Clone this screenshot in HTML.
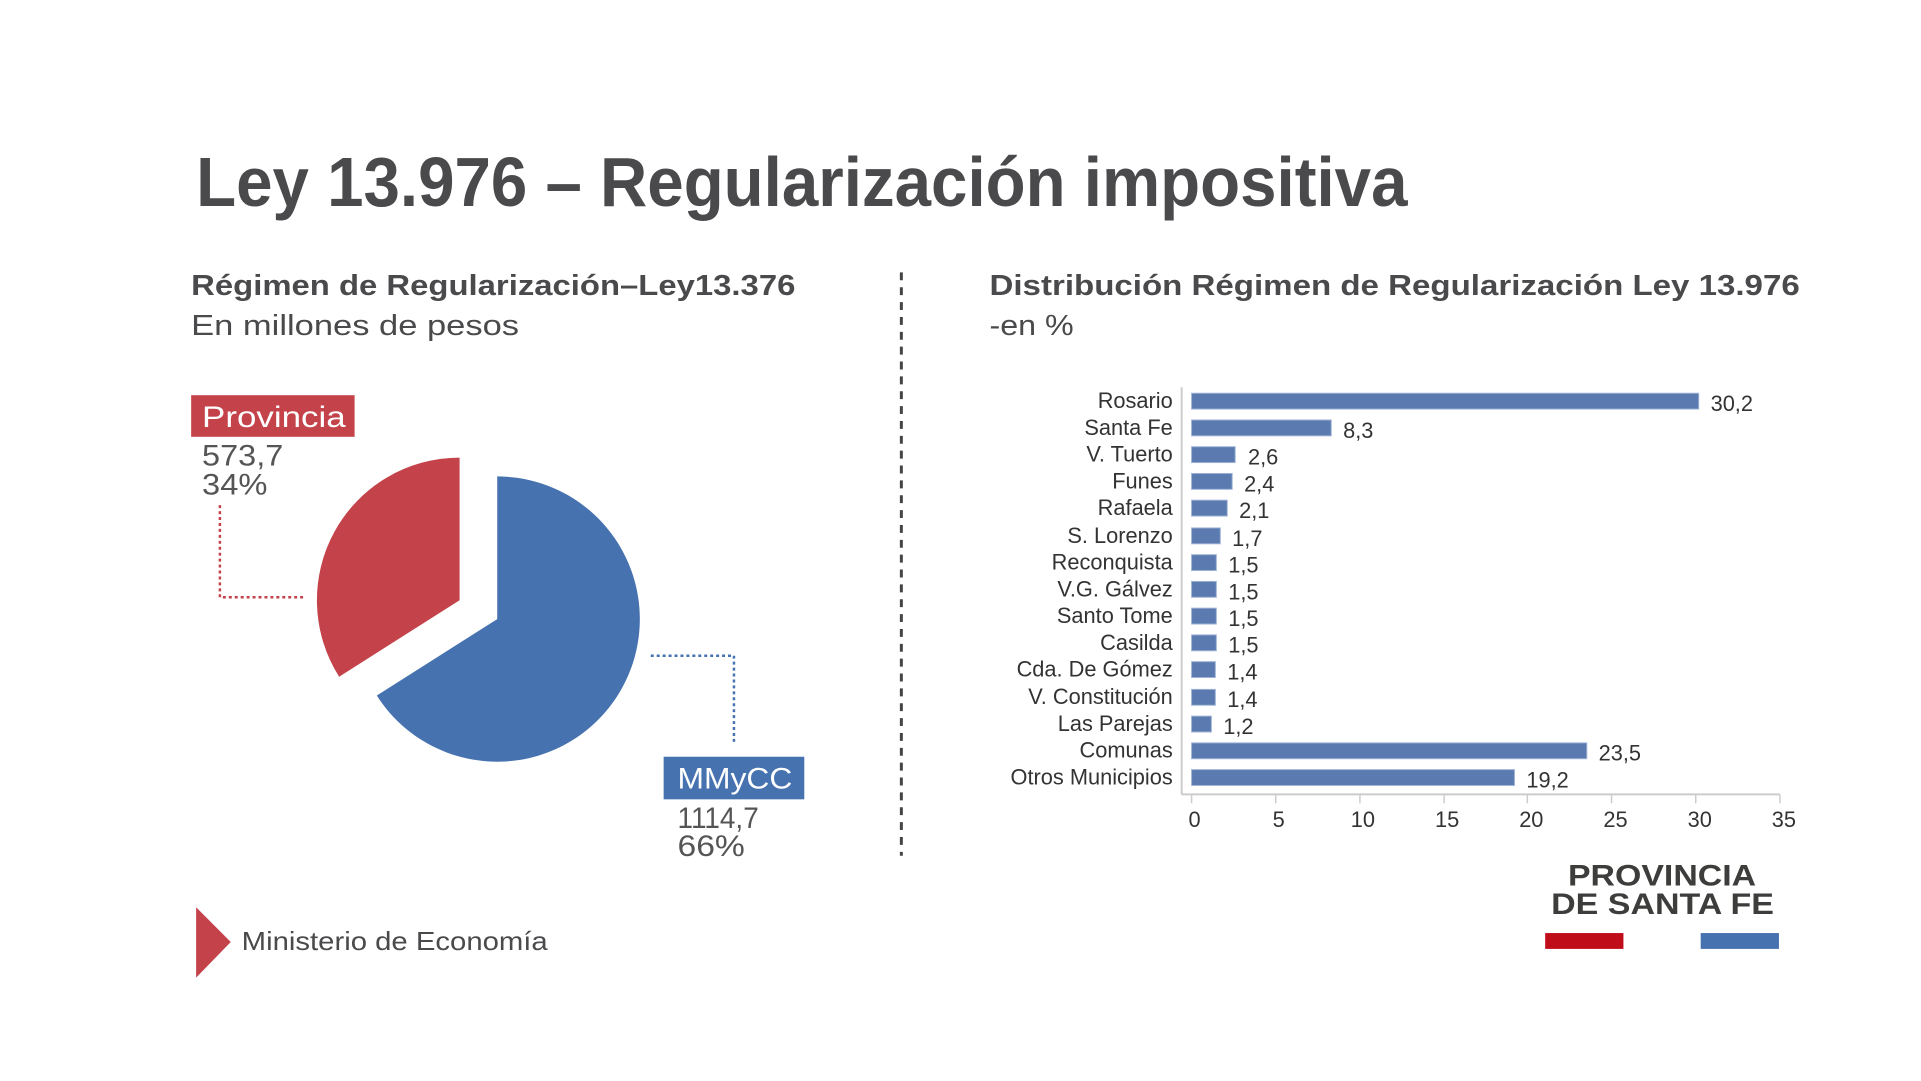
<!DOCTYPE html>
<html><head><meta charset="utf-8"><style>
html,body{margin:0;padding:0;background:#fff;}
svg{display:block;}
text{font-family:"Liberation Sans",sans-serif;}
</style></head><body>
<svg width="1921" height="1081" viewBox="0 0 1921 1081" xmlns="http://www.w3.org/2000/svg">
<rect width="1921" height="1081" fill="#fff"/>
<g transform="scale(0.9905)">
<text x="198" y="208" font-size="70" font-weight="bold" fill="#4a4a4c" textLength="1223" lengthAdjust="spacingAndGlyphs">Ley 13.976 – Regularización impositiva</text>
<text x="193" y="298" font-size="29" font-weight="bold" fill="#4a4a4c" textLength="610" lengthAdjust="spacingAndGlyphs">Régimen de Regularización–Ley13.376</text>
<text x="193" y="338" font-size="29" fill="#4a4a4c" textLength="331" lengthAdjust="spacingAndGlyphs">En millones de pesos</text>
<text x="999" y="298" font-size="29" font-weight="bold" fill="#4a4a4c" textLength="818" lengthAdjust="spacingAndGlyphs">Distribución Régimen de Regularización Ley 13.976</text>
<text x="999" y="338" font-size="29" fill="#4a4a4c" textLength="85" lengthAdjust="spacingAndGlyphs">-en %</text>
<line x1="910" y1="275" x2="910" y2="864" stroke="#444" stroke-width="3" stroke-dasharray="8,7"/>

<path d="M502,625 L502,481 A144,144 0 1 1 380.4,702.2 Z" fill="#4672b0"/>
<path d="M464,606 L342.4,683.2 A144,144 0 0 1 464,462 Z" fill="#c4424a"/>
<polyline points="222,510 222,603 306,603" fill="none" stroke="#c4424a" stroke-width="2.5" stroke-dasharray="3,3"/>
<polyline points="657,662 741,662 741,751" fill="none" stroke="#4672b0" stroke-width="2.5" stroke-dasharray="3,3"/>
<rect x="193" y="399" width="165" height="42" fill="#c4424a"/>
<text x="204" y="431" font-size="30" fill="#fff" textLength="145" lengthAdjust="spacingAndGlyphs">Provincia</text>
<text x="204" y="470" font-size="30" fill="#555" textLength="82" lengthAdjust="spacingAndGlyphs">573,7</text>
<text x="204" y="499" font-size="30" fill="#555" textLength="66" lengthAdjust="spacingAndGlyphs">34%</text>
<rect x="670" y="764" width="142" height="43" fill="#4672b0"/>
<text x="684" y="796" font-size="30" fill="#fff" textLength="116" lengthAdjust="spacingAndGlyphs">MMyCC</text>
<text x="684" y="836" font-size="30" fill="#555" textLength="82" lengthAdjust="spacingAndGlyphs">1114,7</text>
<text x="684" y="864" font-size="30" fill="#555" textLength="68" lengthAdjust="spacingAndGlyphs">66%</text>

<polygon points="198,916 233,951 198,987" fill="#c4424a"/>
<text x="244" y="959" font-size="26" fill="#4a4a4c" textLength="309" lengthAdjust="spacingAndGlyphs">Ministerio de Economía</text>
<text x="1583" y="894" font-size="30" font-weight="bold" fill="#3d3d3b" textLength="190" lengthAdjust="spacingAndGlyphs">PROVINCIA</text>
<text x="1566" y="923" font-size="30" font-weight="bold" fill="#3d3d3b" textLength="225" lengthAdjust="spacingAndGlyphs">DE SANTA FE</text>
<rect x="1560" y="942" width="79" height="16" fill="#c00d1a"/>
<rect x="1717" y="942" width="79" height="16" fill="#4672b0"/>

<g font-size="22" fill="#333">
<line x1="1193" y1="391" x2="1193" y2="802" stroke="#ccc" stroke-width="2"/>
<line x1="1193" y1="802" x2="1797" y2="802" stroke="#ccc" stroke-width="2"/>
<g stroke="#ccc" stroke-width="1.5">
<line x1="1203" y1="802" x2="1203" y2="811"/><line x1="1288" y1="802" x2="1288" y2="811"/><line x1="1373" y1="802" x2="1373" y2="811"/><line x1="1458" y1="802" x2="1458" y2="811"/><line x1="1542" y1="802" x2="1542" y2="811"/><line x1="1627" y1="802" x2="1627" y2="811"/><line x1="1712" y1="802" x2="1712" y2="811"/><line x1="1797" y1="802" x2="1797" y2="811"/>
</g>
<g text-anchor="middle">
<text x="1206" y="835">0</text><text x="1291" y="835">5</text><text x="1376" y="835">10</text><text x="1461" y="835">15</text><text x="1546" y="835">20</text><text x="1631" y="835">25</text><text x="1716" y="835">30</text><text x="1801" y="835">35</text>
</g>
<g fill="#5a7ab0" stroke="#9fb3d6" stroke-width="1">
<rect x="1203" y="397" width="512" height="16"/>
<rect x="1203" y="424" width="141" height="16"/>
<rect x="1203" y="451" width="44" height="16"/>
<rect x="1203" y="478" width="41" height="16"/>
<rect x="1203" y="505" width="36" height="16"/>
<rect x="1203" y="533" width="29" height="16"/>
<rect x="1203" y="560" width="25" height="16"/>
<rect x="1203" y="587" width="25" height="16"/>
<rect x="1203" y="614" width="25" height="16"/>
<rect x="1203" y="641" width="25" height="16"/>
<rect x="1203" y="668" width="24" height="16"/>
<rect x="1203" y="696" width="24" height="16"/>
<rect x="1203" y="723" width="20" height="16"/>
<rect x="1203" y="750" width="399" height="16"/>
<rect x="1203" y="777" width="326" height="16"/>
</g>
<g text-anchor="end">
<text x="1184" y="412">Rosario</text>
<text x="1184" y="439">Santa Fe</text>
<text x="1184" y="466">V. Tuerto</text>
<text x="1184" y="493">Funes</text>
<text x="1184" y="520">Rafaela</text>
<text x="1184" y="548">S. Lorenzo</text>
<text x="1184" y="575">Reconquista</text>
<text x="1184" y="602">V.G. Gálvez</text>
<text x="1184" y="629">Santo Tome</text>
<text x="1184" y="656">Casilda</text>
<text x="1184" y="683">Cda. De Gómez</text>
<text x="1184" y="711">V. Constitución</text>
<text x="1184" y="738">Las Parejas</text>
<text x="1184" y="765">Comunas</text>
<text x="1184" y="792">Otros Municipios</text>
</g>
<text x="1727" y="415">30,2</text>
<text x="1356" y="442">8,3</text>
<text x="1260" y="469">2,6</text>
<text x="1256" y="496">2,4</text>
<text x="1251" y="523">2,1</text>
<text x="1244" y="551">1,7</text>
<text x="1240" y="578">1,5</text>
<text x="1240" y="605">1,5</text>
<text x="1240" y="632">1,5</text>
<text x="1240" y="659">1,5</text>
<text x="1239" y="686">1,4</text>
<text x="1239" y="714">1,4</text>
<text x="1235" y="741">1,2</text>
<text x="1614" y="768">23,5</text>
<text x="1541" y="795">19,2</text>
</g>
</g>
</svg>
</body></html>
